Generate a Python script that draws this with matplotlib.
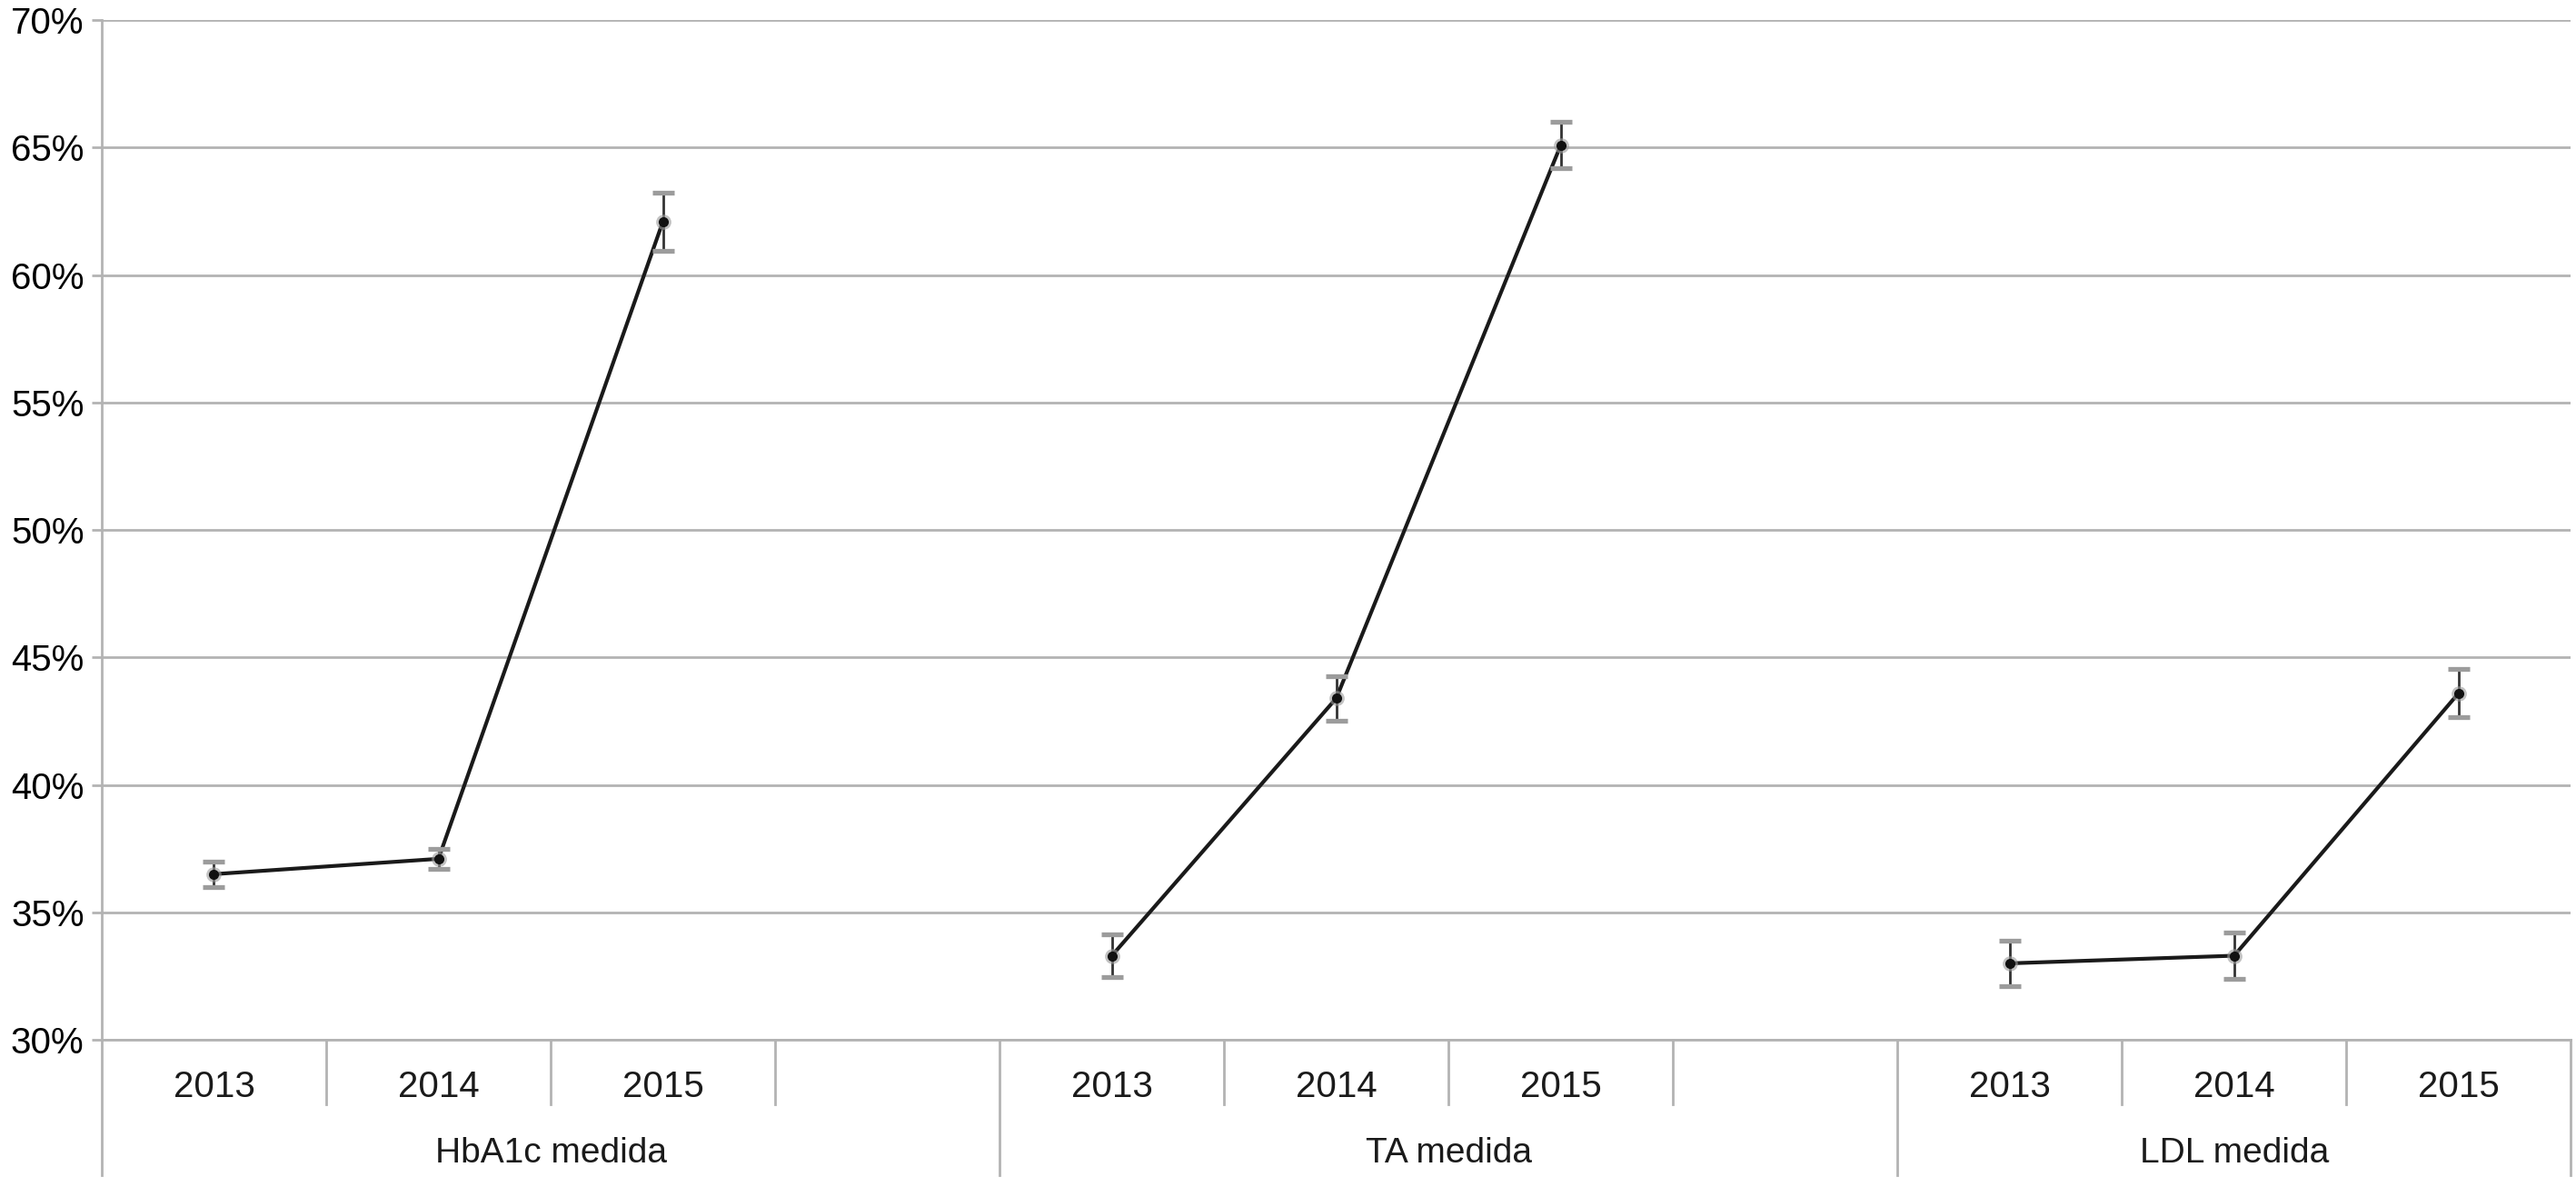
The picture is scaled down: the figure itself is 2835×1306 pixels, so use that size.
import numpy as np
import matplotlib.pyplot as plt
from matplotlib.ticker import PercentFormatter

plt.rcParams["font.family"] = ["Liberation Sans", "DejaVu Sans"]

groups = ["HbA1c medida", "TA medida", "LDL medida"]
years = ["2013", "2014", "2015"]

# percent values per group
hba1c = [36.5, 37.1, 62.1]
hba1c_err = [0.5, 0.4, 1.14]
ta = [33.3, 43.4, 65.1]
ta_err = [0.85, 0.87, 0.9]
ldl = [33.0, 33.3, 43.6]
ldl_err = [0.9, 0.9, 0.95]

series = [hba1c, ta, ldl]
errors = [hba1c_err, ta_err, ldl_err]
group_start = [0, 4, 8]   # first slot of each group
group_width = [4, 4, 3]   # slots per group (first two carry an empty slot)
n_slots = 11

grid_col = "#b3b3b3"

fig = plt.figure(figsize=(28.35, 13.06), dpi=100)
ax = fig.add_axes([0.0395, 0.124, 0.9585, 0.859])

for vals, errs, start in zip(series, errors, group_start):
    x = np.arange(start, start + len(vals)) + 0.5
    ax.plot(x, vals, color="#1a1a1a", lw=3, zorder=3)
    line, caps, bars = ax.errorbar(x, vals, yerr=errs, fmt="none", ecolor="#333333",
                                   elinewidth=2, capsize=8.3, capthick=3.8, zorder=4)
    for c in caps:
        c.set_markeredgecolor("#9c9c9c")
    ax.plot(x, vals, "o", ms=12, color="#9a9a9a", alpha=0.6, mec="none", zorder=5)
    ax.plot(x, vals, "o", ms=7, color="#111111", zorder=6)

ax.set_xlim(0, n_slots)
ax.set_ylim(30, 70)
ax.set_yticks(np.arange(30, 71, 5))
ax.yaxis.set_major_formatter(PercentFormatter(decimals=0))
ax.grid(axis="y", color=grid_col, lw=2)
ax.set_axisbelow(True)
ax.tick_params(axis="y", length=8, width=2, color=grid_col, labelsize=29, pad=6)
ax.set_xticks([])

for side in ["top", "right"]:
    ax.spines[side].set_visible(False)
ax.spines["left"].set_color(grid_col)
ax.spines["left"].set_linewidth(2)
ax.spines["bottom"].set_color(grid_col)
ax.spines["bottom"].set_linewidth(2)

trans = ax.get_xaxis_transform()
# two-level category labels below the axis
for name, start, width in zip(groups, group_start, group_width):
    for j, yr in enumerate(years):
        ax.text(start + j + 0.5, -0.046, yr, transform=trans, ha="center", va="center",
                fontsize=29, color="#1a1a1a")
    ax.text(start + width / 2, -0.111, name, transform=trans,
            ha="center", va="center", fontsize=28, color="#1a1a1a")

for s in range(n_slots + 1):
    long_tick = s in (0, 4, 8, n_slots)
    ax.plot([s, s], [0, -0.133 if long_tick else -0.063], transform=trans,
            color=grid_col, lw=2, clip_on=False)

fig.savefig("out.png", dpi=100, facecolor="white")
